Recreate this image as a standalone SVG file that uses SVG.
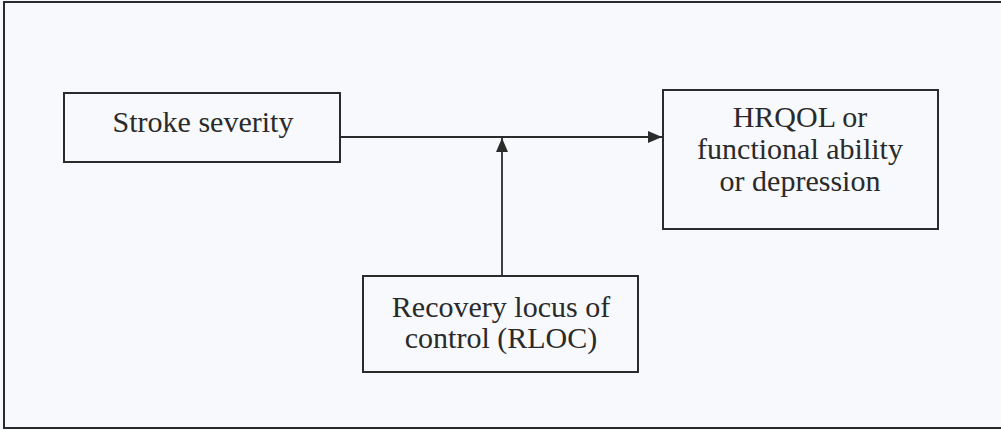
<svg xmlns="http://www.w3.org/2000/svg" width="1001" height="430" viewBox="0 0 1001 430">
  <style>
    .box { fill: none; stroke: #2b2b2b; stroke-width: 2; }
    .lbl { font-family: "Liberation Serif", "Times New Roman", serif; font-size: 30px; fill: #2a2a2a; text-anchor: middle; }
    .edge { stroke: #2b2b2b; stroke-width: 1.8; fill: none; }
  </style>
  <defs>
    <marker id="arrow" viewBox="0 0 14 12" refX="14" refY="6" markerWidth="14" markerHeight="12" markerUnits="userSpaceOnUse" orient="auto">
      <path d="M0,0 L14,6 L0,12 Z" fill="#2b2b2b"/>
    </marker>
  </defs>
  <rect x="0" y="0" width="1001" height="430" fill="#f8f9fc"/>
  <!-- outer frame -->
  <rect x="4" y="2" width="1000" height="426" class="box" stroke="#555"/>

  <g id="connectors">
    <line x1="341" y1="137" x2="662" y2="137" class="edge" marker-end="url(#arrow)"/>
    <line x1="502" y1="275" x2="502" y2="138" class="edge" marker-end="url(#arrow)"/>
  </g>

  <g id="stroke-severity">
    <rect x="64" y="93" width="276" height="69" class="box"/>
    <text x="203" y="132" class="lbl">Stroke severity</text>
  </g>

  <g id="outcome">
    <rect x="663" y="90" width="275" height="139" class="box"/>
    <text x="800" y="127" class="lbl">HRQOL or</text>
    <text x="800" y="159" class="lbl">functional ability</text>
    <text x="800" y="191" class="lbl">or depression</text>
  </g>

  <g id="rloc">
    <rect x="363" y="276" width="275" height="96" class="box"/>
    <text x="501" y="317" class="lbl">Recovery locus of</text>
    <text x="501" y="348" class="lbl">control (RLOC)</text>
  </g>
</svg>
